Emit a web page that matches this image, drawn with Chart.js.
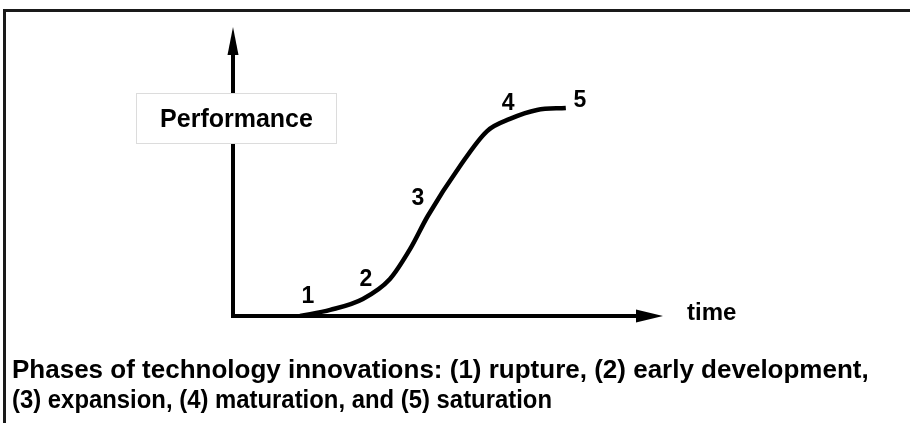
<!DOCTYPE html>
<html>
<head>
<meta charset="utf-8">
<title>Phases of technology innovations</title>
<script src="https://cdn.jsdelivr.net/npm/chart.js@4.4.1/dist/chart.umd.min.js"></script>
<style>
    html, body { margin: 0; padding: 0; background: #fff; }
    #wrap { width: 910px; height: 423px; }
</style>
</head>
<body>
<div id="wrap"><canvas id="sCurve" width="910" height="423"></canvas></div>
<script>
// S-curve (x = time, y = performance, both 0..100)
const curveX = [15.6, 22.6, 30.2, 36.5, 41.2, 45.3, 52.8, 59.1, 64.4, 70.7, 77.4];
const curveY = [0, 2.1, 5.9, 12.8, 23.2, 34.6, 51.9, 64.0, 68.2, 71.3, 72.0];

// phase numbers along the curve
const phaseLabels = ['1', '2', '3', '4', '5'];
const phaseX = [17.4, 30.9, 43.0, 64.0, 80.7];
const phaseY = [6.9, 12.8, 40.8, 73.7, 74.7];

const yAxisTitle = 'Performance';
const xAxisTitle = 'time';
const captionLines = [
    'Phases of technology innovations: (1) rupture, (2) early development,',
    '(3) expansion, (4) maturation, and (5) saturation'
];

const FONT = '"Liberation Sans", Arial, sans-serif';

// axes with arrows, labels, frame and caption
const diagramPlugin = {
    id: 'diagram',
    beforeDatasetsDraw(chart) {
        const ctx = chart.ctx;
        const a = chart.chartArea;
        ctx.save();
        ctx.strokeStyle = '#000';
        ctx.fillStyle = '#000';
        ctx.lineWidth = 4;
        // vertical axis
        ctx.beginPath();
        ctx.moveTo(a.left, a.bottom + 2);
        ctx.lineTo(a.left, a.top + 20);
        ctx.stroke();
        ctx.beginPath();
        ctx.moveTo(a.left, a.top);
        ctx.lineTo(a.left - 5.5, a.top + 28);
        ctx.lineTo(a.left + 5.5, a.top + 28);
        ctx.closePath();
        ctx.fill();
        // horizontal axis
        ctx.beginPath();
        ctx.moveTo(a.left - 2, a.bottom);
        ctx.lineTo(a.right - 20, a.bottom);
        ctx.stroke();
        ctx.beginPath();
        ctx.moveTo(a.right, a.bottom);
        ctx.lineTo(a.right - 27, a.bottom - 6.5);
        ctx.lineTo(a.right - 27, a.bottom + 6.5);
        ctx.closePath();
        ctx.fill();
        ctx.restore();
    },
    afterDraw(chart) {
        const ctx = chart.ctx;
        const xs = chart.scales.x;
        const ys = chart.scales.y;
        ctx.save();

        // frame: top and left edges
        ctx.strokeStyle = '#1a1a1a';
        ctx.lineWidth = 3;
        ctx.beginPath();
        ctx.moveTo(910, 10.5);
        ctx.lineTo(4.5, 10.5);
        ctx.lineTo(4.5, 423);
        ctx.stroke();

        // performance box
        ctx.fillStyle = '#fff';
        ctx.fillRect(136, 93, 201, 51);
        ctx.strokeStyle = '#dcdcdc';
        ctx.lineWidth = 1;
        ctx.strokeRect(136.5, 93.5, 200, 50);
        ctx.fillStyle = '#000';
        ctx.font = 'bold 25px ' + FONT;
        ctx.textAlign = 'center';
        ctx.textBaseline = 'alphabetic';
        ctx.fillText(yAxisTitle, 236.5, 127);

        // time label
        ctx.font = 'bold 24px ' + FONT;
        ctx.textAlign = 'left';
        ctx.fillText(xAxisTitle, 687, 320);

        // phase numbers
        ctx.font = 'bold 23px ' + FONT;
        ctx.textAlign = 'center';
        ctx.textBaseline = 'middle';
        phaseLabels.forEach((t, i) => {
            ctx.fillText(t, xs.getPixelForValue(phaseX[i]), ys.getPixelForValue(phaseY[i]) + 1);
        });

        // caption
        ctx.font = 'bold 26px ' + FONT;
        ctx.textAlign = 'left';
        ctx.textBaseline = 'alphabetic';
        ctx.fillText(captionLines[0], 12, 378, 868);
        ctx.fillText(captionLines[1], 12, 408, 540);
        ctx.restore();
    }
};

new Chart(document.getElementById('sCurve'), {
    type: 'line',
    data: {
        datasets: [{
            data: curveX.map((x, i) => ({ x: x, y: curveY[i] })),
            borderColor: '#000',
            borderWidth: 4.5,
            pointRadius: 0,
            fill: false,
            cubicInterpolationMode: 'monotone',
            borderCapStyle: 'butt'
        }]
    },
    options: {
        responsive: false,
        animation: false,
        layout: { padding: { left: 233, right: 247, top: 27, bottom: 107 } },
        plugins: { legend: { display: false }, tooltip: { enabled: false } },
        scales: {
            x: { type: 'linear', min: 0, max: 100, display: false },
            y: { type: 'linear', min: 0, max: 100, display: false }
        }
    },
    plugins: [diagramPlugin]
});
</script>
</body>
</html>
